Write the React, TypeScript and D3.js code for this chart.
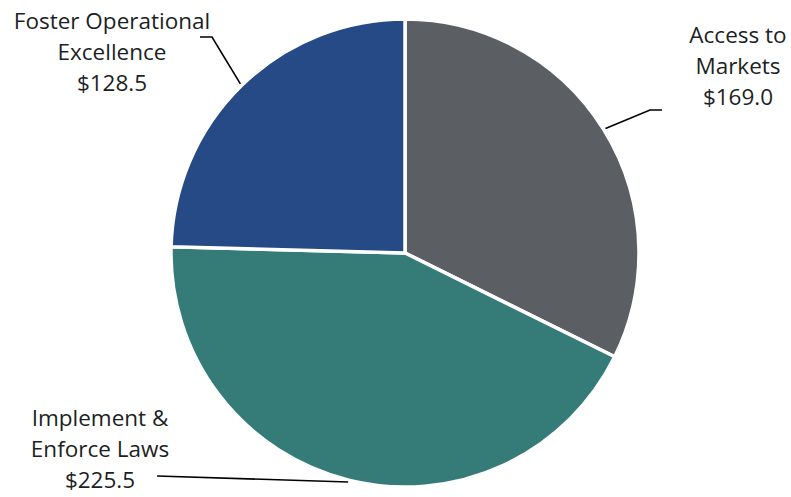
import React from "react";
import * as d3 from "d3";

const categories = ["Access to Markets", "Implement & Enforce Laws", "Foster Operational Excellence"];
const values = [169.0, 225.5, 128.5];
const labelLines = [
  ["Access to", "Markets", "$169.0"],
  ["Implement &", "Enforce Laws", "$225.5"],
  ["Foster Operational", "Excellence", "$128.5"],
];
const colors = ["#5B5E63", "#357C79", "#254A85"];

const W = 791, H = 497;
const cx = 405, cy = 253, R = 234;

// label layout: text center x, first baseline y, elbow point, line end
const labelLayout = [
  { x: 738, y: 43, elbow: [650, 110], end: [662, 110] },
  { x: 100, y: 426, elbow: [157, 476], end: [157, 476] },
  { x: 112, y: 29, elbow: [212, 37], end: [200, 37] },
];

export default function App() {
  const pie = d3.pie<number>().sort(null).value((d) => d);
  const arcs = pie(values);
  const arc = d3.arc<d3.PieArcDatum<number>>().innerRadius(0).outerRadius(R);

  return (
    <svg width={W} height={H} style={{ position: "absolute", left: 0, top: 0, fontFamily: "'Open Sans', 'Noto Sans', sans-serif" }}>
      <g transform={`translate(${cx},${cy})`}>
        {arcs.map((a, i) => (
          <path key={categories[i]} d={arc(a) || ""} fill={colors[i]} stroke="#fff" strokeWidth={3.5} strokeLinejoin="round" />
        ))}
      </g>
      {arcs.map((a, i) => {
        const mid = (a.startAngle + a.endAngle) / 2;
        const r0 = R + 2;
        const px = cx + Math.sin(mid) * r0;
        const py = cy - Math.cos(mid) * r0;
        const L = labelLayout[i];
        return (
          <polyline
            key={"l" + i}
            points={`${px},${py} ${L.elbow[0]},${L.elbow[1]} ${L.end[0]},${L.end[1]}`}
            fill="none"
            stroke="#000"
            strokeWidth={1.6}
          />
        );
      })}
      {labelLines.map((lines, i) => (
        <text key={"t" + i} textAnchor="middle" fontSize={22.5} fill="#1c1f24">
          {lines.map((ln, j) => (
            <tspan key={j} x={labelLayout[i].x} y={labelLayout[i].y + j * 31}>
              {ln}
            </tspan>
          ))}
        </text>
      ))}
    </svg>
  );
}
